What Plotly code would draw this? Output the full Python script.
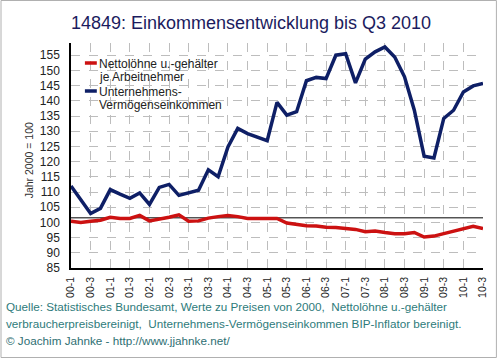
import plotly.graph_objects as go

quarters = ["00-1","00-2","00-3","00-4","01-1","01-2","01-3","01-4",
            "02-1","02-2","02-3","02-4","03-1","03-2","03-3","03-4",
            "04-1","04-2","04-3","04-4","05-1","05-2","05-3","05-4",
            "06-1","06-2","06-3","06-4","07-1","07-2","07-3","07-4",
            "08-1","08-2","08-3","08-4","09-1","09-2","09-3","09-4",
            "10-1","10-2","10-3"]
tick_labels = ["00-1","00-3","01-1","01-3","02-1","02-3","03-1","03-3",
               "04-1","04-3","05-1","05-3","06-1","06-3","07-1","07-3",
               "08-1","08-3","09-1","09-3","10-1","10-3"]

netto = [100.4, 100.0, 100.4, 100.7, 101.7, 101.3, 101.3, 102.3, 100.5, 101.0,
         101.7, 102.5, 100.4, 100.5, 101.4, 101.9, 102.3, 101.9, 101.3, 101.3,
         101.3, 101.3, 99.8, 99.4, 98.9, 98.8, 98.4, 98.3, 98.0, 97.7,
         96.9, 97.2, 96.7, 96.3, 96.3, 96.7, 95.2, 95.5, 96.3, 97.1,
         97.8, 98.7, 98.0]
unternehmen = [112.0, 107.3, 102.9, 104.6, 110.8, 109.3, 107.9, 109.7, 105.9, 111.5,
               112.5, 108.9, 109.8, 110.6, 117.3, 115.0, 124.8, 130.9, 129.2, 127.9,
               126.9, 139.5, 135.3, 136.4, 146.6, 147.7, 147.3, 155.0, 155.5, 145.9,
               153.7, 156.1, 157.7, 154.4, 147.9, 136.9, 121.8, 121.2, 134.2, 136.9,
               142.9, 144.9, 145.7]
ref_level = 101.5

W, H = 500, 358
L, R, T, B = 71, 14, 43, 90
PW, PH = W - L - R, H - T - B
def px(x): return (x - L) / PW
def py(y): return (H - B - y) / PH

FONT = "Arial, Liberation Sans, sans-serif"
RED = "#cc1111"
BLUE = "#0e1f66"

fig = go.Figure()
fig.add_trace(go.Scatter(x=quarters, y=[ref_level] * len(quarters), mode="lines",
                         line=dict(color="#000000", width=1), showlegend=False, hoverinfo="skip"))
fig.add_trace(go.Scatter(x=quarters, y=netto, mode="lines", name="Nettolöhne",
                         line=dict(color=RED, width=3.5), showlegend=False))
fig.add_trace(go.Scatter(x=quarters, y=unternehmen, mode="lines", name="Unternehmen",
                         line=dict(color=BLUE, width=3.5), showlegend=False))

fig.update_layout(
    width=W, height=H, margin=dict(l=L, r=R, t=T, b=B),
    paper_bgcolor="white", plot_bgcolor="white",
    font=dict(family=FONT, color="#222222", size=12),
    title=dict(text="14849: Einkommensentwicklung bis Q3 2010", x=0.502, xref="container",
               y=1 - 23 / H, yref="container", xanchor="center", yanchor="middle",
               font=dict(size=18, color="#1b1b5e", family=FONT)),
    xaxis=dict(type="category", range=[0, len(quarters) - 1], tickvals=tick_labels,
               ticktext=tick_labels, tickangle=-90, tickfont=dict(size=10.5, color="#222222"),
               showgrid=True, gridcolor="#bdbdbd", griddash="dash", gridwidth=1,
               showline=True, linecolor="#000000", linewidth=1.5, ticks="",
               ticklabelstandoff=3, zeroline=False),
    yaxis=dict(range=[85, 85 + PH / 3.04], tickvals=list(range(85, 160, 5)),
               tickfont=dict(size=12, color="#222222"),
               showgrid=True, gridcolor="#bdbdbd", griddash="dash", gridwidth=1,
               showline=True, linecolor="#000000", linewidth=1.5, ticks="",
               ticklabelstandoff=7, zeroline=False),
)

anns = [
    dict(text="Jahr 2000 = 100", x=px(21), y=py(160), textangle=-90,
         font=dict(size=10.5, color="#333333")),
    dict(text="Nettolöhne u.-gehälter", x=px(97), y=py(64), xanchor="left",
         font=dict(size=12, color="#222222")),
    dict(text="je Arbeitnehmer", x=px(97), y=py(77), xanchor="left",
         font=dict(size=12, color="#222222")),
    dict(text="Unternehmens-", x=px(97), y=py(92), xanchor="left",
         font=dict(size=12, color="#222222")),
    dict(text="Vermögenseinkommen", x=px(97), y=py(105), xanchor="left",
         font=dict(size=12, color="#222222")),
    dict(text="Quelle: Statistisches Bundesamt, Werte zu Preisen von 2000,  Nettolöhne u.-gehälter",
         x=px(4), y=py(306), xanchor="left", font=dict(size=11.7, color="#2e7b7b")),
    dict(text="verbraucherpreisbereinigt,  Unternehmens-Vermögenseinkommen BIP-Inflator bereinigt.",
         x=px(4), y=py(323), xanchor="left", font=dict(size=11.7, color="#2e7b7b")),
    dict(text="© Joachim Jahnke - http://www.jjahnke.net/",
         x=px(4), y=py(340), xanchor="left", font=dict(size=11.7, color="#2e6f73")),
]
for a in anns:
    a.update(xref="paper", yref="paper", showarrow=False, yanchor="middle")
    fig.add_annotation(**a)

fig.add_shape(type="line", xref="paper", yref="paper", x0=px(85), x1=px(97), y0=py(63), y1=py(63),
              line=dict(color=RED, width=3.5))
fig.add_shape(type="line", xref="paper", yref="paper", x0=px(85), x1=px(97), y0=py(91), y1=py(91),
              line=dict(color=BLUE, width=3.5))
fig.add_shape(type="rect", xref="paper", yref="paper", x0=px(0.5), x1=px(W - 0.5),
              y0=py(H - 0.5), y1=py(0.5), line=dict(color="#b0b0b0", width=1), layer="above")

fig.write_html("out.html", config={"displayModeBar": False},
               post_script="document.body.style.margin='0';document.body.style.overflow='hidden';")
